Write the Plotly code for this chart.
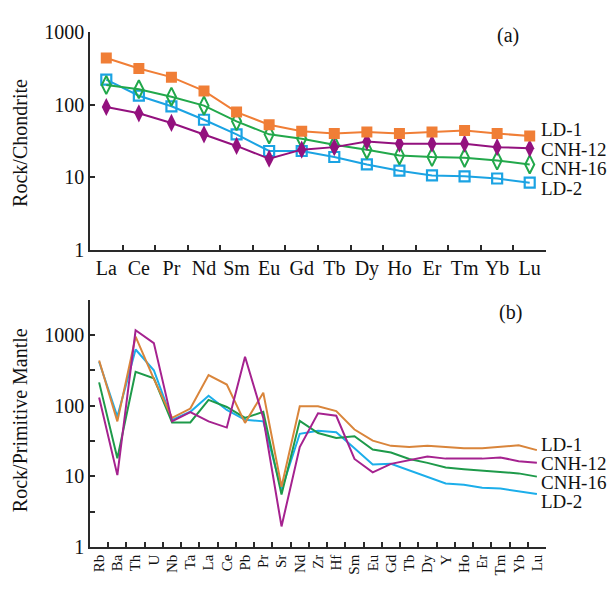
import plotly.graph_objects as go

# ---------- data: panel (a) chondrite-normalised REE ----------
ree = ["La", "Ce", "Pr", "Nd", "Sm", "Eu", "Gd", "Tb", "Dy", "Ho", "Er", "Tm", "Yb", "Lu"]
ree_ld1 = [440, 315, 240, 155, 79, 53, 43, 40, 42, 40, 42, 44, 40, 37]
ree_cnh12 = [93, 76, 56, 39, 27, 18, 24, 26, 31, 29, 29, 29, 26, 25]
ree_cnh16 = [187, 163, 129, 97, 59, 39, 34, 28, 24, 20, 19, 18.5, 17, 15]
ree_ld2 = [222, 133, 95, 62, 39, 23, 23, 19, 15, 12.3, 10.6, 10.3, 9.6, 8.4]

# ---------- data: panel (b) primitive-mantle-normalised spider ----------
spider = ["Rb", "Ba", "Th", "U", "Nb", "Ta", "La", "Ce", "Pb", "Pr", "Sr", "Nd", "Zr",
          "Hf", "Sm", "Eu", "Gd", "Tb", "Dy", "Y", "Ho", "Er", "Tm", "Yb", "Lu"]
sp_ld1 = [436, 60, 950, 240, 67, 91, 272, 199, 57, 153, 7.1, 98, 98,
          84, 46, 32, 27, 26, 27, 26, 25, 25, 26, 27.5, 23.5]
sp_cnh12 = [131, 10.4, 1170, 771, 60, 81, 60, 49, 493, 67, 1.95, 26, 78,
            72, 17.6, 11.4, 15, 17, 19, 17.8, 18, 17.8, 18.5, 16.4, 15.5]
sp_cnh16 = [214, 18, 302, 245, 58, 58, 121, 96, 67, 82, 5.5, 61, 41,
            35, 37, 24, 21.7, 17.6, 15.5, 13.3, 12.6, 12, 11.4, 11, 9.9]
sp_ld2 = [420, 70, 625, 318, 63, 82, 138, 87, 63, 60, 6.4, 40, 44,
          42, 25, 14.7, 15, 12.2, 9.7, 7.9, 7.6, 6.9, 6.7, 6.2, 5.6]

series_names = ["LD-1", "CNH-12", "CNH-16", "LD-2"]

FONT = "Liberation Serif, Times New Roman, serif"
W, H = 615, 589

top_cols = {"LD-1": "#F07E36", "CNH-12": "#93117E", "CNH-16": "#22A84B", "LD-2": "#1BA3E3"}
bot_cols = {"LD-1": "#D9853B", "CNH-12": "#A5228F", "CNH-16": "#1E9A4A", "LD-2": "#1CAEEA"}

fig = go.Figure()

# panel (a)
top_style = {
    "LD-1": dict(symbol="square", size=11, color=top_cols["LD-1"]),
    "LD-2": dict(symbol="square-open", size=10, color=top_cols["LD-2"], line=dict(width=2.2)),
    "CNH-16": dict(symbol="diamond-tall-open", size=13, color=top_cols["CNH-16"], line=dict(width=2)),
    "CNH-12": dict(symbol="diamond-tall", size=13, color=top_cols["CNH-12"]),
}
top_data = {"LD-1": ree_ld1, "CNH-12": ree_cnh12, "CNH-16": ree_cnh16, "LD-2": ree_ld2}
for name in ["LD-2", "CNH-16", "CNH-12", "LD-1"]:
    fig.add_trace(go.Scatter(
        x=ree, y=top_data[name], mode="lines+markers", name=name,
        line=dict(color=top_cols[name], width=2), marker=top_style[name],
        xaxis="x", yaxis="y", showlegend=False))

# panel (b)
bot_data = {"LD-1": sp_ld1, "CNH-12": sp_cnh12, "CNH-16": sp_cnh16, "LD-2": sp_ld2}
for name in ["LD-2", "CNH-16", "LD-1", "CNH-12"]:
    fig.add_trace(go.Scatter(
        x=spider, y=bot_data[name], mode="lines", name=name,
        line=dict(color=bot_cols[name], width=2),
        xaxis="x2", yaxis="y2", showlegend=False))

def py(pix):
    return 1 - pix / H

def px(pix):
    return pix / W

axis_common = dict(showline=True, linecolor="#2a2a2a", linewidth=1.5, mirror=False,
                   showgrid=False, zeroline=False, ticks="inside", ticklen=5,
                   tickcolor="#2a2a2a", tickwidth=1.5,
                   tickfont=dict(family=FONT, size=20, color="#111"))

x_dom = [px(90), px(546)]

fig.update_layout(
    width=W, height=H, margin=dict(l=0, r=0, t=0, b=0),
    paper_bgcolor="white", plot_bgcolor="white",
    xaxis=dict(axis_common, domain=x_dom, anchor="y", type="category",
               range=[-0.5, 13.5], tickson="boundaries", tickangle=0),
    yaxis=dict(axis_common, domain=[py(248), py(22)], anchor="x", type="log",
               range=[0, 3], tickvals=[1, 10, 100, 1000],
               ticktext=["1", "10", "100", "1000"]),
    xaxis2=dict(axis_common, domain=x_dom, anchor="y2", type="category",
                range=[-0.5, 24.5], tickson="boundaries", tickangle=-90,
                tickfont=dict(family=FONT, size=15, color="#111")),
    yaxis2=dict(axis_common, domain=[py(556.7), py(300)], anchor="x2", type="log",
                range=[0, 3.5],
                tickvals=[1, 3.1623, 10, 31.623, 100, 316.23, 1000, 3162.3],
                ticktext=["1", "", "10", "", "100", "", "1000", ""]),
)

def text_ann(text, x, y, xanchor="center", angle=0, size=20):
    return dict(text=text, x=px(x), y=py(y), xref="paper", yref="paper",
                xanchor=xanchor, yanchor="middle", textangle=angle, showarrow=False,
                font=dict(family=FONT, size=size, color="#111"))

ann = [
    text_ann("(a)", 508, 25),
    text_ann("(b)", 510, 313),
    text_ann("Rock/Chondrite", 20, 137, angle=-90),
    text_ann("Rock/Primitive Mantle", 20, 425, angle=-90),
]
for name, yp in zip(series_names, [123, 144, 164, 184]):
    ann.append(text_ann(name, 539, yp, xanchor="left", size=19))
for name, yp in zip(series_names, [450, 470, 490, 510]):
    ann.append(text_ann(name, 539, yp, xanchor="left", size=19))
fig.update_layout(annotations=ann)

fig.write_html("out.html", config={"displayModeBar": False},
               post_script="document.body.style.margin='0';document.body.style.overflow='hidden';")
